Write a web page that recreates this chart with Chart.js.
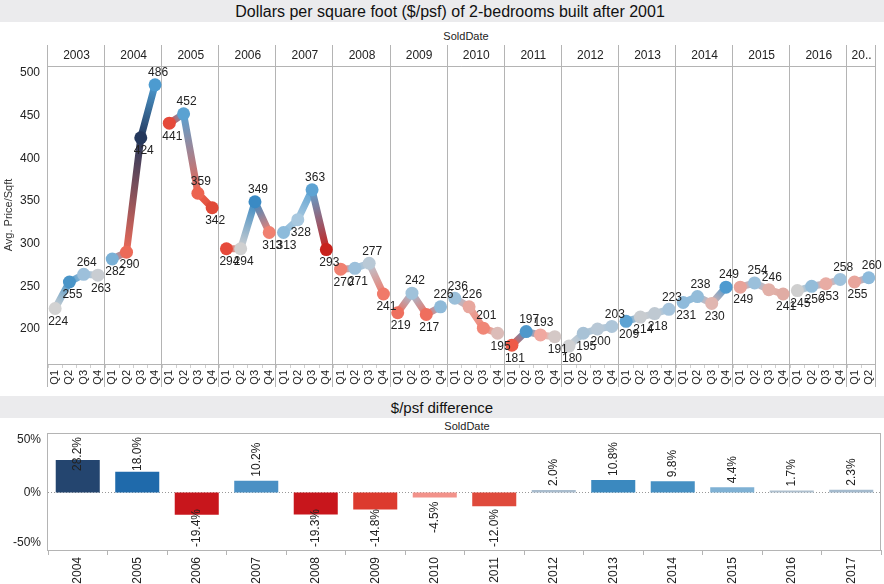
<!DOCTYPE html>
<html>
<head>
<meta charset="utf-8">
<script src="https://cdn.jsdelivr.net/npm/chart.js@4.4.0/dist/chart.umd.min.js"></script>
<style>
  body { margin: 0; width: 884px; height: 584px; background: #fff; position: relative; overflow: hidden;
         font-family: "Liberation Sans", Arial, sans-serif; }
  .band { position: absolute; left: 0; width: 884px; background: #ebebed; color: #111; text-align: center; box-sizing: border-box; }
  #t1 { top: 0; height: 22px; line-height: 24px; font-size: 16px; padding-left: 16px; }
  #t2 { top: 396px; height: 22px; line-height: 24px; font-size: 15px; }
  .sd { position: absolute; font-size: 11px; color: #222; width: 120px; text-align: center; }
  canvas { position: absolute; left: 0; }
</style>
</head>
<body>
<div class="band" id="t1">Dollars per square foot ($/psf) of 2-bedrooms built after 2001</div>
<div class="sd" style="left:406px;top:30px">SoldDate</div>
<canvas id="priceChart" width="884" height="373" style="top:22px"></canvas>
<div class="band" id="t2">$/psf difference</div>
<div class="sd" style="left:407px;top:420px">SoldDate</div>
<canvas id="diffChart" width="884" height="166" style="top:418px"></canvas>
<script>
const years = ['2003', '2004', '2005', '2006', '2007', '2008', '2009', '2010', '2011', '2012', '2013', '2014', '2015', '2016', '2017'];
const quarters = ['Q1', 'Q2', 'Q3', 'Q4'];
// 2017 only has Q1 and Q2
const quarterLabels = years.flatMap(y => y === '2017' ? ['Q1', 'Q2'] : quarters);
const pricePsf = [
    224, 255, 264, 263,
    282, 290, 424, 486,
    441, 452, 359, 342,
    294, 294, 349, 313,
    313, 328, 363, 293,
    270, 271, 277, 241,
    219, 242, 217, 226,
    236, 226, 201, 195,
    181, 197, 193, 191,
    180, 195, 200, 203,
    209, 214, 218, 223,
    231, 238, 230, 249,
    249, 254, 246, 241,
    245, 250, 253, 258,
    255, 260
];

const diffYears = ['2004', '2005', '2006', '2007', '2008', '2009', '2010', '2011', '2012', '2013', '2014', '2015', '2016', '2017'];
const pctDiff = [28.2, 18.0, -19.4, 10.2, -19.3, -14.8, -4.5, -12.0, 2.0, 10.8, 9.8, 4.4, 1.7, 2.3];

// colours
const pointColors = [
    '#d2d2d2', '#4a95c8', '#9dc0db', '#c9cdd2',
    '#79b0d6', '#ec6a58', '#24385c', '#4d9bd0',
    '#e5493a', '#5aa2d2', '#ec6450', '#e04a38',
    '#e64a3b', '#d0d0d0', '#3a8ac4', '#f08070',
    '#8dbbdb', '#a8c8df', '#5ea3d3', '#c8221c',
    '#f08070', '#9cc0db', '#b9c9d6', '#f07a6a',
    '#ee6f5e', '#a0c2da', '#ef6e5e', '#8fbad9',
    '#9bbfd9', '#e8a79e', '#f08676', '#dcbcb8',
    '#ee5a48', '#4f98cb', '#f0a8a0', '#d4c8c6',
    '#cfd0d2', '#a8c2d6', '#b8c8d6', '#aec6d9',
    '#5da3d3', '#c8ccd0', '#bfc9d2', '#a6c4dc',
    '#8fbbdb', '#93bcd9', '#e0b6b0', '#4f9bd0',
    '#e8a39a', '#9bc0db', '#e2b0a8', '#e0aca4',
    '#cfcfcf', '#93bcd9', '#e8aca4', '#9fc2dc',
    '#e8a59c', '#8dbadb'
];
const barColors = ['#24456f', '#1f6aab', '#c8161c', '#4a90c4', '#c8161c', '#dc3a2e', '#f2928a',
                   '#df4a3c', '#a9bccd', '#3b89bf', '#4690c3', '#7fb1d4', '#aebfce', '#a4bacd'];

const FONT = '"Liberation Sans", Arial, sans-serif';
const lineCol = '#b4b4b4';
Chart.defaults.font.family = FONT;
Chart.defaults.color = '#222';

// year header, separators and axis lines of the top chart
const yearGrid = {
    id: 'yearGrid',
    beforeDatasetsDraw(chart) {
        const { ctx, chartArea: a, scales: { x } } = chart;
        const half = (x.getPixelForValue(1) - x.getPixelForValue(0)) / 2;
        const headTop = a.top - 21;
        ctx.save();
        ctx.strokeStyle = lineCol;
        ctx.lineWidth = 1;
        ctx.beginPath();
        ctx.moveTo(a.left, Math.round(a.top) + 0.5);
        ctx.lineTo(a.right, Math.round(a.top) + 0.5);
        ctx.moveTo(a.left, Math.round(a.bottom) + 0.5);
        ctx.lineTo(a.right, Math.round(a.bottom) + 0.5);
        const bounds = years.map((y, k) => x.getPixelForValue(k * 4) - half);
        bounds.push(x.getPixelForValue(quarterLabels.length - 1) + half);
        bounds.forEach(b => {
            const px = Math.round(b) - 0.5;
            ctx.moveTo(px, headTop);
            ctx.lineTo(px, a.bottom + 23);
        });
        ctx.stroke();

        ctx.fillStyle = '#222';
        ctx.font = '12px ' + FONT;
        ctx.textAlign = 'center';
        ctx.textBaseline = 'middle';
        years.forEach((y, k) => {
            const w = bounds[k + 1] - bounds[k];
            let txt = y;
            if (ctx.measureText(txt).width > w - 6) txt = y.slice(0, 2) + '..';
            ctx.fillText(txt, (bounds[k] + bounds[k + 1]) / 2, headTop + 11);
        });
        ctx.restore();
    },
    afterDatasetsDraw(chart) {
        const { ctx, chartArea: a } = chart;
        const meta = chart.getDatasetMeta(0);
        ctx.save();
        ctx.fillStyle = '#222';
        ctx.font = '12px ' + FONT;
        ctx.textAlign = 'center';
        ctx.textBaseline = 'middle';
        pricePsf.forEach((v, i) => {
            const pt = meta.data[i];
            const q = i % 4;
            const hasNext = q < 3 && i + 1 < pricePsf.length;
            // label above when the line goes down afterwards (or ends higher)
            const above = hasNext ? v > pricePsf[i + 1] : v > pricePsf[i - 1];
            let y = above ? pt.y - 12 : pt.y + 13;
            y = Math.max(a.top + 7, y);
            ctx.fillText(String(v), pt.x + 3, y);
        });
        ctx.restore();
    }
};

new Chart(document.getElementById('priceChart'), {
    type: 'line',
    data: {
        labels: quarterLabels,
        datasets: [{
            data: pricePsf,
            borderWidth: 7,
            borderCapStyle: 'round',
            borderJoinStyle: 'round',
            pointRadius: 6.5,
            pointHoverRadius: 6.5,
            pointBorderWidth: 0,
            pointBackgroundColor: pointColors,
            tension: 0,
            segment: {
                borderColor: c => {
                    if (c.p0DataIndex % 4 === 3) return 'rgba(0,0,0,0)';
                    const g = c.chart.ctx.createLinearGradient(c.p0.x, c.p0.y, c.p1.x, c.p1.y);
                    g.addColorStop(0, pointColors[c.p0DataIndex]);
                    g.addColorStop(1, pointColors[c.p1DataIndex]);
                    return g;
                }
            }
        }]
    },
    options: {
        responsive: false,
        animation: false,
        devicePixelRatio: 1,
        layout: { padding: { top: 44, right: 1, left: 0, bottom: 0 } },
        plugins: { legend: { display: false }, tooltip: { enabled: false } },
        scales: {
            x: {
                offset: true,
                afterFit: s => { s.height = 31; },
                border: { display: false },
                grid: { offset: true, drawOnChartArea: false, tickLength: 4, color: '#cfcfcf' },
                ticks: { minRotation: 90, maxRotation: 90, autoSkip: false, padding: 2, font: { size: 11 }, color: '#222' }
            },
            y: {
                min: 159,
                max: 508,
                afterFit: s => { s.width = 48; },
                afterBuildTicks: s => { s.ticks = [200, 250, 300, 350, 400, 450, 500].map(v => ({ value: v })); },
                border: { display: false },
                grid: { display: false },
                ticks: { padding: 0, font: { size: 12 }, color: '#222' },
                title: { display: true, text: 'Avg. Price/Sqft', font: { size: 11 }, color: '#333', padding: { top: 2, bottom: 0 } }
            }
        }
    },
    plugins: [yearGrid]
});

// frame, zero line, tick and value labels of the bottom chart
const diffDecor = {
    id: 'diffDecor',
    beforeDatasetsDraw(chart) {
        const { ctx, chartArea: a, scales: { y } } = chart;
        ctx.save();
        ctx.strokeStyle = lineCol;
        ctx.lineWidth = 1;
        ctx.strokeRect(Math.round(a.left) - 0.5, Math.round(a.top) + 0.5,
                       Math.round(a.right - a.left), Math.round(a.bottom - a.top));
        const y0 = Math.round(y.getPixelForValue(0)) + 0.5;
        ctx.strokeStyle = '#999';
        ctx.setLineDash([1, 2]);
        ctx.beginPath();
        ctx.moveTo(a.left, y0);
        ctx.lineTo(a.right, y0);
        ctx.stroke();
        ctx.setLineDash([]);

        ctx.fillStyle = '#222';
        ctx.font = '12px ' + FONT;
        ctx.textAlign = 'right';
        ctx.textBaseline = 'middle';
        [-50, 0, 50].forEach(v => {
            const py = Math.min(a.bottom - 7, Math.max(a.top + 7, y.getPixelForValue(v)));
            ctx.fillText(v + '%', a.left - 7, py);
        });
        ctx.restore();
    },
    afterDatasetsDraw(chart) {
        const { ctx, chartArea: a } = chart;
        const meta = chart.getDatasetMeta(0);
        ctx.save();
        ctx.fillStyle = '#222';
        ctx.font = '12px ' + FONT;
        ctx.textAlign = 'left';
        ctx.textBaseline = 'middle';
        pctDiff.forEach((v, i) => {
            const bar = meta.data[i];
            const txt = v.toFixed(1) + '%';
            const w = ctx.measureText(txt).width;
            let start;
            if (v >= 0) {
                start = bar.y - 4;
                start = Math.max(start, a.top + 4 + w);
            } else {
                start = bar.y + 4 + w;
                start = Math.min(start, a.bottom - 3);
            }
            ctx.save();
            ctx.translate(bar.x, start);
            ctx.rotate(-Math.PI / 2);
            ctx.fillText(txt, 0, 0);
            ctx.restore();
        });
        ctx.restore();
    }
};

new Chart(document.getElementById('diffChart'), {
    type: 'bar',
    data: {
        labels: diffYears,
        datasets: [{
            data: pctDiff,
            backgroundColor: barColors,
            barPercentage: 0.74,
            categoryPercentage: 1
        }]
    },
    options: {
        responsive: false,
        animation: false,
        devicePixelRatio: 1,
        layout: { padding: { top: 15, right: 3, left: 0, bottom: 0 } },
        plugins: { legend: { display: false }, tooltip: { enabled: false } },
        scales: {
            x: {
                afterFit: s => { s.height = 34; },
                border: { display: false },
                grid: { offset: true, drawOnChartArea: false, tickLength: 5, color: lineCol },
                ticks: { minRotation: 90, maxRotation: 90, autoSkip: false, padding: 2, font: { size: 12 }, color: '#222' }
            },
            y: {
                min: -50.2,
                max: 51.8,
                afterFit: s => { s.width = 48; },
                border: { display: false },
                grid: { display: false },
                ticks: { display: false }
            }
        }
    },
    plugins: [diffDecor]
});
</script>
</body>
</html>
